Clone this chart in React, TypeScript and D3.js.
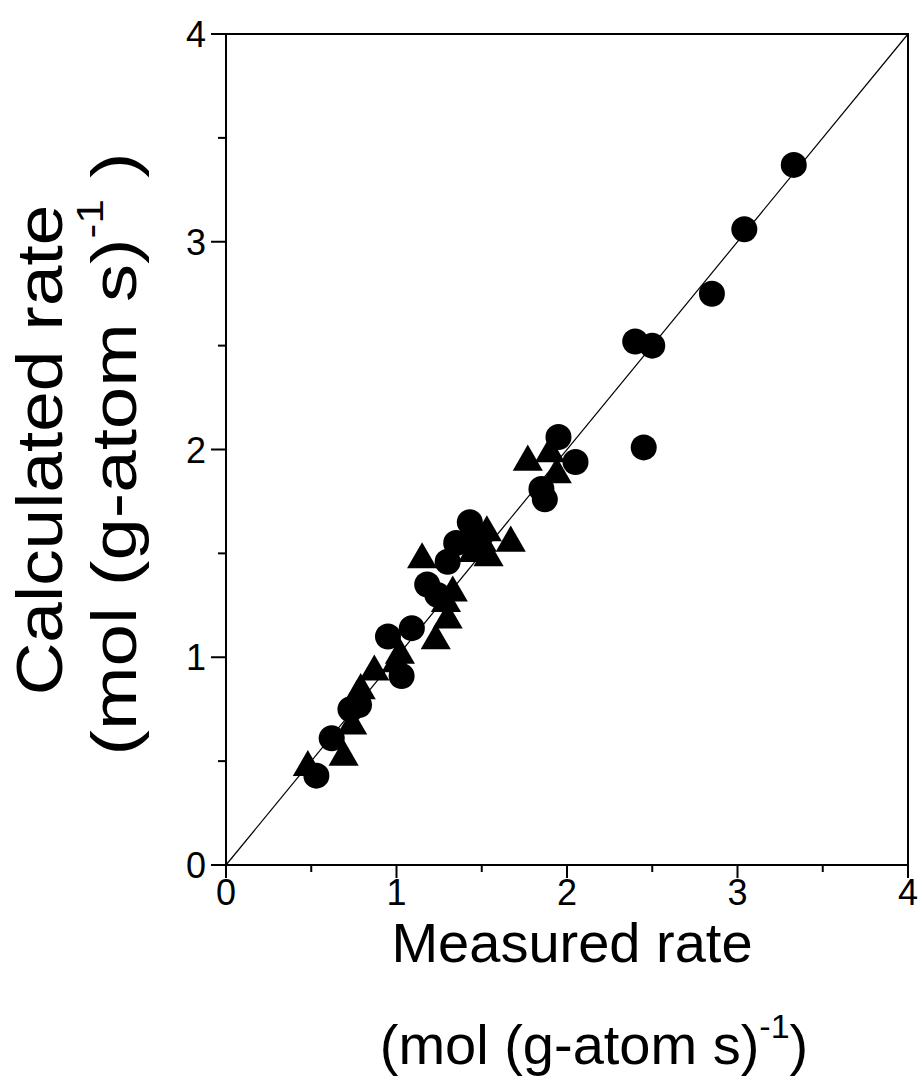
import React from "react";
import * as d3 from "d3";

const circleX = [0.53, 0.62, 0.73, 0.78, 0.95, 1.03, 1.09, 1.18, 1.24, 1.30, 1.35, 1.43, 1.45, 1.85, 1.87, 1.95, 2.05, 2.40, 2.50, 2.45, 2.85, 3.04, 3.33];
const circleY = [0.43, 0.61, 0.75, 0.77, 1.10, 0.91, 1.14, 1.35, 1.30, 1.46, 1.55, 1.65, 1.57, 1.81, 1.76, 2.06, 1.94, 2.52, 2.50, 2.01, 2.75, 3.06, 3.37];

const triX = [0.48, 0.69, 0.74, 0.77, 0.79, 0.87, 1.00, 1.02, 1.15, 1.23, 1.30, 1.33, 1.29, 1.45, 1.54, 1.53, 1.67, 1.50, 1.77, 1.90, 1.94];
const triY = [0.47, 0.52, 0.67, 0.81, 0.84, 0.93, 0.97, 1.01, 1.47, 1.08, 1.18, 1.31, 1.26, 1.50, 1.48, 1.60, 1.55, 1.55, 1.94, 1.98, 1.88];

const majorTicks = [0, 1, 2, 3, 4];
const minorTicks = [0.5, 1.5, 2.5, 3.5];

export default function App() {
  const W = 924, H = 1083;
  const x = d3.scaleLinear().domain([0, 4]).range([226, 908]);
  const y = d3.scaleLinear().domain([0, 4]).range([865, 34]);
  const tri = d3.symbol().type(d3.symbolTriangle).size(393)() as string;
  const font = "'Liberation Sans', Arial, sans-serif";
  const diag = d3.line<number>().x((d) => x(d)).y((d) => y(d))([0, 4]) as string;

  return (
    <svg width={W} height={H} style={{ position: "absolute", left: 0, top: 0, display: "block", background: "#fff" }} fontFamily={font}>
      <rect x={0} y={0} width={W} height={H} fill="#fff" />
      <path d={diag} stroke="#000" strokeWidth={1.2} fill="none" />
      {circleX.map((cx, i) => (
        <circle key={"c" + i} cx={x(cx)} cy={y(circleY[i])} r={13} fill="#000" />
      ))}
      {triX.map((tx, i) => (
        <path key={"t" + i} d={tri} transform={`translate(${x(tx)},${y(triY[i])})`} fill="#000" />
      ))}
      {/* frame */}
      <rect x={x(0)} y={y(4)} width={x(4) - x(0)} height={y(0) - y(4)} fill="none" stroke="#000" strokeWidth={2} />
      {/* x ticks */}
      {majorTicks.map((t) => (
        <g key={"xt" + t}>
          <line x1={x(t)} x2={x(t)} y1={y(0)} y2={y(0) + 13} stroke="#000" strokeWidth={2} />
          <text x={x(t)} y={y(0) + 40} textAnchor="middle" fontSize={36}>{t}</text>
        </g>
      ))}
      {minorTicks.map((t) => (
        <line key={"xm" + t} x1={x(t)} x2={x(t)} y1={y(0)} y2={y(0) + 7} stroke="#000" strokeWidth={2} />
      ))}
      {/* y ticks */}
      {majorTicks.map((t) => (
        <g key={"yt" + t}>
          <line x1={x(0) - 15} x2={x(0)} y1={y(t)} y2={y(t)} stroke="#000" strokeWidth={2} />
          <text x={x(0) - 20} y={y(t) + 13} textAnchor="end" fontSize={36}>{t}</text>
        </g>
      ))}
      {minorTicks.map((t) => (
        <line key={"ym" + t} x1={x(0) - 8} x2={x(0)} y1={y(t)} y2={y(t)} stroke="#000" strokeWidth={2} />
      ))}
      {/* x title */}
      <text x={572} y={962} textAnchor="middle" fontSize={56}>Measured rate</text>
      <text x={594} y={1064} textAnchor="middle" fontSize={56}>
        (mol (g-atom s)<tspan fontSize={34} dy={-26}>-1</tspan><tspan dy={26}>)</tspan>
      </text>
      {/* y title */}
      <g transform="translate(62,450) rotate(-90) scale(1.14,1)">
        <text x={0} y={0} textAnchor="middle" fontSize={64}>Calculated rate</text>
      </g>
      <g transform="translate(136,454) rotate(-90) scale(1.23,1)">
        <text x={0} y={0} textAnchor="middle" fontSize={62}>
          (mol (g-atom s)<tspan fontSize={36} dy={-33}>-1</tspan><tspan dy={33}> )</tspan>
        </text>
      </g>
    </svg>
  );
}
